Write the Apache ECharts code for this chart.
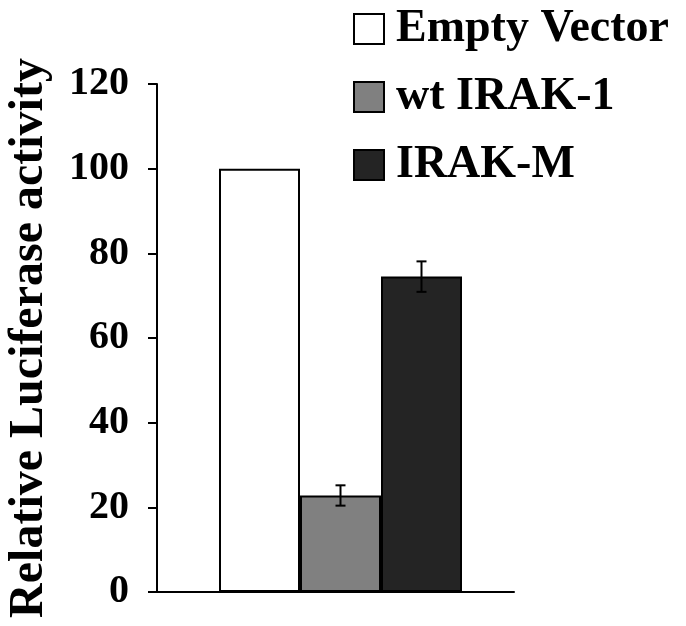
<!DOCTYPE html>
<html>
<head>
<meta charset="utf-8">
<script src="https://cdn.jsdelivr.net/npm/echarts@6/dist/echarts.min.js"></script>
<style>html,body{margin:0;padding:0;background:#fff;}#c{width:686px;height:626px;}</style>
</head>
<body>
<div id="c"></div>
<script>
const categories = [''];
const seriesNames = ['Empty Vector', 'wt IRAK-1', 'IRAK-M'];
const values = [100, 22.8, 74.5];
const errors = [0, 2.4, 3.6];
const yTicks = [0, 20, 40, 60, 80, 100, 120];

const colors = ['#ffffff', '#808080', '#242424'];
const BAR_W = 81, SPACER_W = 10;
const FONT = '"Liberation Serif", "Times New Roman", serif';

const chart = echarts.init(document.getElementById('c'), null, {renderer: 'canvas'});

const total = SPACER_W + BAR_W * 3;
const offsets = seriesNames.map((_, i) => -total / 2 + SPACER_W + BAR_W * i + BAR_W / 2);

const barSeries = seriesNames.map((name, i) => ({
  name: name,
  type: 'bar',
  barWidth: BAR_W,
  barGap: '0%',
  data: categories.map(() => values[i]),
  itemStyle: {color: colors[i], borderColor: '#000', borderWidth: 2},
  emphasis: {disabled: true},
  z: 2
}));

const errData = seriesNames.map((n, i) => [0, values[i], errors[i], i]).filter(d => d[2] > 0);

const option = {
  animation: false,
  backgroundColor: '#fff',
  grid: {left: 157, right: 172, top: 84, bottom: 34, containLabel: false, outerBoundsMode: 'none'},
  legend: {
    data: seriesNames,
    orient: 'vertical',
    left: 353,
    top: 6,
    padding: 0,
    itemWidth: 30,
    itemHeight: 30,
    itemGap: 22,
    icon: 'rect',
    textStyle: {fontFamily: FONT, fontWeight: 'bold', fontSize: 46, color: '#000', lineHeight: 46, padding: [0, 0, 0, 7]}
  },
  xAxis: {
    type: 'category',
    data: categories,
    axisLine: {lineStyle: {color: '#000', width: 2}},
    axisTick: {show: false},
    axisLabel: {show: false}
  },
  yAxis: {
    type: 'value',
    min: 0, max: 120, interval: 20,
    name: 'Relative Luciferase activity',
    nameLocation: 'middle',
    nameRotate: 90,
    nameGap: 103,
    nameTextStyle: {fontFamily: FONT, fontWeight: 'bold', fontSize: 48, color: '#000'},
    axisLine: {show: true, lineStyle: {color: '#000', width: 2}},
    axisTick: {show: true, length: 9, lineStyle: {color: '#000', width: 2}},
    splitLine: {show: false},
    axisLabel: {
      margin: 28,
      fontFamily: FONT, fontWeight: 'bold', fontSize: 40, color: '#000',
      formatter: v => yTicks.indexOf(v) >= 0 ? String(v) : ''
    }
  },
  series: [
    {name: '_spacer', type: 'bar', barWidth: SPACER_W, barGap: '0%', data: categories.map(() => null), silent: true}
  ].concat(barSeries).concat([{
    type: 'custom',
    name: 'errors',
    data: errData,
    z: 10,
    silent: true,
    renderItem: function (params, api) {
      const idx = api.value(3);
      const cx = api.coord([api.value(0), 0])[0] + offsets[idx];
      const v = api.value(1), e = api.value(2);
      const yt = api.coord([api.value(0), v + e])[1];
      const yb = api.coord([api.value(0), v - e])[1];
      const cap = 5;
      const st = {stroke: '#000', lineWidth: 2};
      return {
        type: 'group',
        children: [
          {type: 'line', shape: {x1: cx, y1: yt, x2: cx, y2: yb}, style: st},
          {type: 'line', shape: {x1: cx - cap, y1: yt, x2: cx + cap, y2: yt}, style: st},
          {type: 'line', shape: {x1: cx - cap, y1: yb, x2: cx + cap, y2: yb}, style: st}
        ]
      };
    }
  }])
};
chart.setOption(option);
</script>
</body>
</html>
